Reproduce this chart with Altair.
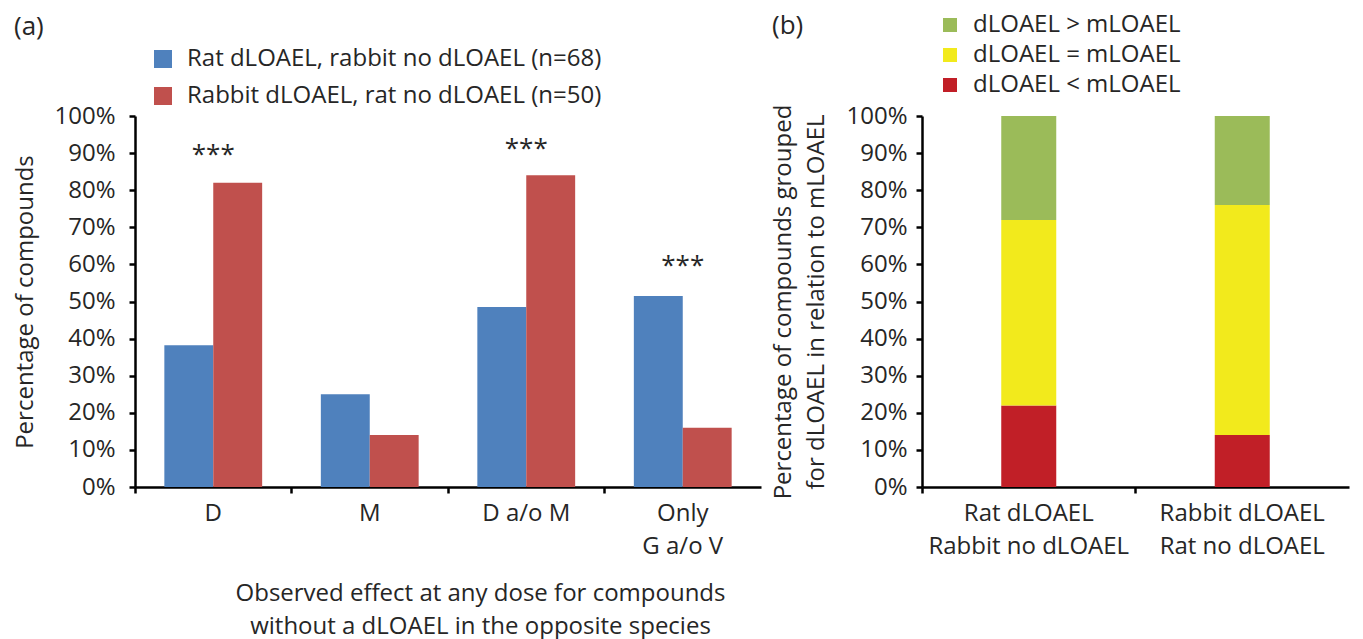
import altair as alt
import pandas as pd

FONT = "Open Sans"
TXT = "#262626"

# ---- panel (a) data ----
categories_a = ["D", "M", "D a/o M", "Only|G a/o V"]
series_a = ["Rat dLOAEL, rabbit no dLOAEL (n=68)", "Rabbit dLOAEL, rat no dLOAEL (n=50)"]
rat_values = [38.2, 25.0, 48.5, 51.5]
rabbit_values = [82.0, 14.0, 84.0, 16.0]
colors_a = ["#4F81BD", "#C0504D"]
star_categories = ["D", "D a/o M", "Only|G a/o V"]
star_y = [89.5, 91.0, 59.7]
star_text = ["***", "***", "***"]

# ---- panel (b) data ----
categories_b = ["Rat dLOAEL|Rabbit no dLOAEL", "Rabbit dLOAEL|Rat no dLOAEL"]
classes_b = ["dLOAEL > mLOAEL", "dLOAEL = mLOAEL", "dLOAEL < mLOAEL"]
colors_b = ["#9BBB59", "#F2EA1C", "#C11F27"]
greater_values = [28.0, 24.0]
equal_values = [50.0, 62.0]
less_values = [22.0, 14.0]

rows_a = []
for i, c in enumerate(categories_a):
    rows_a.append({"cat": c, "series": series_a[0], "value": rat_values[i]})
    rows_a.append({"cat": c, "series": series_a[1], "value": rabbit_values[i]})
df_a = pd.DataFrame(rows_a)
df_stars = pd.DataFrame({"cat": star_categories, "y": star_y, "t": star_text})

rows_b = []
for i, c in enumerate(categories_b):
    rows_b.append({"cat": c, "cls": classes_b[2], "value": less_values[i], "ord": 0})
    rows_b.append({"cat": c, "cls": classes_b[1], "value": equal_values[i], "ord": 1})
    rows_b.append({"cat": c, "cls": classes_b[0], "value": greater_values[i], "ord": 2})
df_b = pd.DataFrame(rows_b)

y_axis_common = dict(
    values=list(range(0, 101, 10)),
    labelExpr="datum.value + '%'",
    grid=False,
    domainColor="black", domainWidth=2.5,
    tickColor="black", tickWidth=2.5, tickSize=6,
    labelFont=FONT, labelFontSize=24, labelColor=TXT,
    titleFont=FONT, titleFontSize=24, titleColor=TXT, titleFontWeight="normal",
)
x_axis_common = dict(
    labelAngle=0,
    labelExpr="split(datum.label, '|')",
    bandPosition=0,
    domainColor="black", domainWidth=2.5,
    tickColor="black", tickWidth=2.5, tickSize=6,
    labelFont=FONT, labelFontSize=24, labelColor=TXT, labelPadding=8,
    labelLineHeight=33, labelLimit=400,
    titleFont=FONT, titleFontSize=24, titleColor=TXT, titleFontWeight="normal",
)

x_axis_a = alt.Axis(title=["Observed effect at any dose for compounds",
                           "without a dLOAEL in the opposite species"],
                    titleLineHeight=33, titlePadding=23, titleX=345, **x_axis_common)
y_axis_a = alt.Axis(title="Percentage of compounds", titlePadding=16, labelPadding=14,
                    **y_axis_common)
x_scale_a = alt.Scale(paddingInner=0, paddingOuter=0)
y_scale = alt.Scale(domain=[0, 100])

bars_a = alt.Chart(df_a).mark_bar().encode(
    x=alt.X("cat:N", sort=categories_a, scale=x_scale_a, axis=x_axis_a),
    xOffset=alt.XOffset("series:N", sort=series_a,
                        scale=alt.Scale(paddingOuter=0.6, paddingInner=0)),
    y=alt.Y("value:Q", scale=y_scale, axis=y_axis_a),
    color=alt.Color("series:N", sort=series_a,
                    scale=alt.Scale(domain=series_a, range=colors_a),
                    legend=alt.Legend(title=None, orient="none", legendX=16, legendY=-69,
                                      symbolType="square", symbolSize=324, symbolStrokeWidth=0,
                                      labelFont=FONT, labelFontSize=24, labelColor=TXT,
                                      labelOffset=12, rowPadding=13, labelLimit=600)),
)
stars_a = alt.Chart(df_stars).mark_text(font=FONT, fontSize=26, color=TXT, baseline="middle").encode(
    x=alt.X("cat:N", sort=categories_a, scale=x_scale_a, axis=x_axis_a),
    y=alt.Y("y:Q", scale=y_scale, axis=y_axis_a),
    text="t:N",
)
chart_a = alt.layer(bars_a, stars_a).properties(
    width=626, height=371,
    title=alt.TitleParams("(a)", anchor="start", frame="bounds", font=FONT, fontSize=26,
                          fontWeight="normal", color=TXT, offset=7),
)

bars_b = alt.Chart(df_b).mark_bar(size=55).encode(
    x=alt.X("cat:N", sort=categories_b,
            scale=alt.Scale(paddingInner=0, paddingOuter=0),
            axis=alt.Axis(title=None, **x_axis_common)),
    y=alt.Y("value:Q", stack="zero", scale=alt.Scale(domain=[0, 100]),
            axis=alt.Axis(title=["Percentage of compounds grouped",
                                 "for dLOAEL in relation to mLOAEL"],
                          titleLineHeight=33, titlePadding=17, labelPadding=9,
                          **y_axis_common)),
    color=alt.Color("cls:N",
                    scale=alt.Scale(domain=classes_b, range=colors_b),
                    legend=alt.Legend(title=None, orient="none", legendX=16, legendY=-103,
                                      symbolType="square", symbolSize=196, symbolStrokeWidth=0,
                                      labelFont=FONT, labelFontSize=24, labelColor=TXT,
                                      labelOffset=11, rowPadding=6, labelLimit=600)),
    order=alt.Order("ord:Q"),
)
chart_b = bars_b.properties(
    width=427, height=371,
    title=alt.TitleParams("(b)", anchor="start", frame="bounds", font=FONT, fontSize=26,
                          fontWeight="normal", color=TXT, offset=-26),
)

chart = alt.hconcat(chart_a, chart_b, spacing=10).resolve_scale(color="independent").configure_view(
    stroke=None
).properties(background="white", padding=5)

chart.save("out.html", embed_options={"renderer": "svg", "actions": False})
